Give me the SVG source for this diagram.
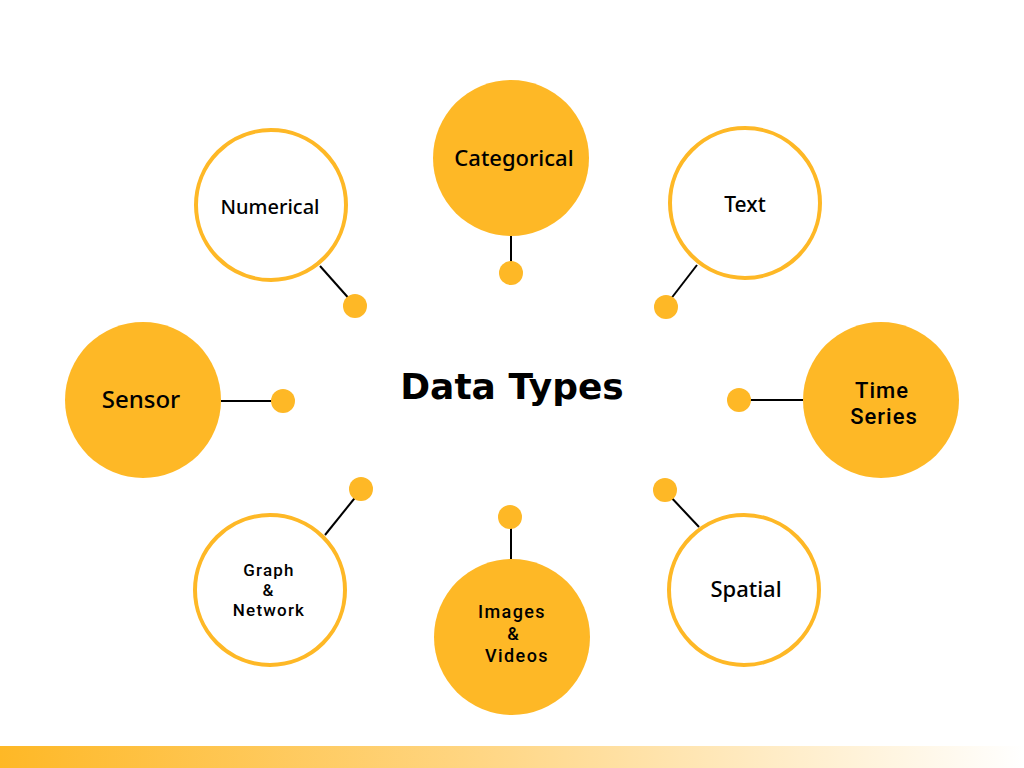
<svg xmlns="http://www.w3.org/2000/svg" width="1024" height="768" viewBox="0 0 1024 768">
<defs>
<linearGradient id="bar" x1="0" y1="0" x2="1" y2="0">
<stop offset="0" stop-color="#FEB826"/>
<stop offset="0.5" stop-color="#FFD88A"/>
<stop offset="1" stop-color="#FFFFFF"/>
</linearGradient>
</defs>
<style>
.fill{fill:#FEB826;stroke:none}
.ring{fill:#FFFFFF;stroke:#FEB826;stroke-width:4}
.dot{fill:#FEB826}
.ln{stroke:#000;stroke-width:2;fill:none}
.lb{font-family:"Noto Sans","Open Sans",sans-serif;font-weight:500;fill:#000;text-anchor:middle}
.ml{font-family:Roboto,"Liberation Sans",sans-serif;font-weight:500;fill:#000;text-anchor:middle}
.title{font-family:"DejaVu Sans",sans-serif;font-weight:bold;font-size:36px;fill:#000;text-anchor:middle}
</style>
<rect width="1024" height="768" fill="#FFFFFF"/>
<rect x="0" y="746" width="1024" height="22" fill="url(#bar)"/>
<g id="connectors">
<line class="ln" x1="320" y1="266" x2="352" y2="302"/>
<line class="ln" x1="511" y1="236" x2="511" y2="268"/>
<line class="ln" x1="697" y1="265" x2="670" y2="300"/>
<line class="ln" x1="221" y1="401" x2="280" y2="401"/>
<line class="ln" x1="742" y1="400" x2="803" y2="400"/>
<line class="ln" x1="358" y1="494" x2="325" y2="535"/>
<line class="ln" x1="511" y1="522" x2="511" y2="559"/>
<line class="ln" x1="668" y1="494" x2="699" y2="527"/>
<circle class="dot" cx="355" cy="306" r="12"/>
<circle class="dot" cx="511" cy="273" r="12"/>
<circle class="dot" cx="666" cy="307" r="12"/>
<circle class="dot" cx="283" cy="401" r="12"/>
<circle class="dot" cx="739" cy="400" r="12"/>
<circle class="dot" cx="361" cy="489" r="12"/>
<circle class="dot" cx="510" cy="517" r="12"/>
<circle class="dot" cx="665" cy="490" r="12"/>
</g>
<g id="title"><text class="title" x="512" y="399">Data Types</text></g>
<g id="numerical">
<circle class="ring" cx="271" cy="205" r="75"/>
<text class="lb" x="270" y="214" font-size="20">Numerical</text>
</g>
<g id="categorical">
<circle class="fill" cx="511" cy="158" r="78"/>
<text class="lb" x="514" y="166" font-size="22">Categorical</text>
</g>
<g id="text">
<circle class="ring" cx="745" cy="203" r="75"/>
<text class="lb" x="745" y="212" font-size="21">Text</text>
</g>
<g id="sensor">
<circle class="fill" cx="143" cy="400" r="78"/>
<text class="lb" x="141" y="408" font-size="24">Sensor</text>
</g>
<g id="timeseries">
<circle class="fill" cx="881" cy="400" r="78"/>
<text class="ml" x="882" y="398" font-size="22" letter-spacing="1">Time</text>
<text class="ml" x="884" y="424" font-size="22" letter-spacing="1">Series</text>
</g>
<g id="graph">
<circle class="ring" cx="270" cy="590" r="75"/>
<text class="ml" x="269" y="576" font-size="17" letter-spacing="1.2">Graph</text>
<text class="ml" x="268" y="596" font-size="17">&amp;</text>
<text class="ml" x="269" y="616" font-size="17" letter-spacing="1.2">Network</text>
</g>
<g id="images">
<circle class="fill" cx="512" cy="637" r="78"/>
<text class="ml" x="512" y="618" font-size="18" letter-spacing="1.4">Images</text>
<text class="ml" x="513" y="640" font-size="18">&amp;</text>
<text class="ml" x="517" y="662" font-size="18" letter-spacing="1.4">Videos</text>
</g>
<g id="spatial">
<circle class="ring" cx="744" cy="590" r="75"/>
<text class="lb" x="746" y="597" font-size="22">Spatial</text>
</g>
</svg>
